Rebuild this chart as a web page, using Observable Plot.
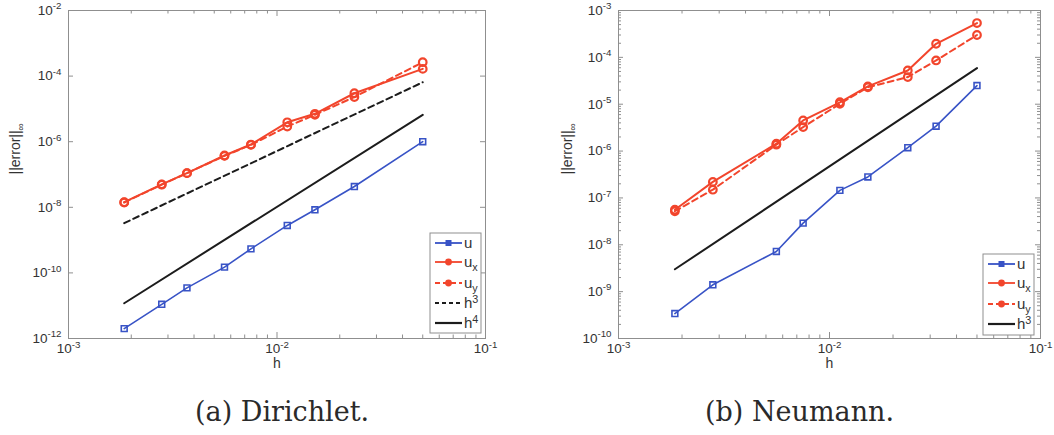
<!DOCTYPE html>
<html><head><meta charset="utf-8">
<script src="https://cdn.jsdelivr.net/npm/d3@7"></script>
<script src="https://cdn.jsdelivr.net/npm/@observablehq/plot@0.6"></script>
<style>
body{margin:0;background:#fff;}
#wrap{position:relative;width:1054px;height:435px;overflow:hidden;background:#fff;}
.panel{position:absolute;top:0;}
#overlay{position:absolute;left:0;top:0;pointer-events:none;}
</style></head><body><div id="wrap"><div id="left" class="panel" style="left:0px;width:520px"></div><div id="right" class="panel" style="left:530px;width:524px"></div></div>
<script>
// ---------- data ----------
// (a) Dirichlet
const hDir   = [0.00185, 0.0028, 0.0037, 0.0056, 0.0075, 0.0112, 0.0152, 0.0235, 0.05];
const uDir   = [2.0e-12, 1.1e-11, 3.5e-11, 1.5e-10, 5.4e-10, 2.8e-9, 8.4e-9, 4.3e-8, 1.0e-6];
const uxDir  = [1.43e-8, 5.0e-8, 1.1e-7, 3.8e-7, 8.2e-7, 3.9e-6, 7.1e-6, 3.0e-5, 1.66e-4];
const uyDir  = [1.4e-8, 4.9e-8, 1.1e-7, 3.7e-7, 8.0e-7, 2.9e-6, 6.6e-6, 2.3e-5, 2.65e-4];
const hRefDir = [0.00185, 0.05];
const h3Dir   = [3.3e-9, 6.5e-5];
const h4Dir   = [1.19e-11, 6.6e-6];
// (b) Neumann
const hNeu   = [0.00185, 0.0028, 0.0056, 0.0075, 0.0112, 0.0152, 0.0235, 0.032, 0.05];
const uNeu   = [3.4e-10, 1.4e-9, 7.2e-9, 2.9e-8, 1.45e-7, 2.8e-7, 1.18e-6, 3.4e-6, 2.5e-5];
const uxNeu  = [5.6e-8, 2.2e-7, 1.44e-6, 4.5e-6, 1.1e-5, 2.4e-5, 5.25e-5, 1.95e-4, 5.4e-4];
const uyNeu  = [5.2e-8, 1.5e-7, 1.37e-6, 3.25e-6, 1.02e-5, 2.3e-5, 3.8e-5, 8.6e-5, 3.0e-4];
const hRefNeu = [0.00185, 0.05];
const h3Neu   = [3.0e-9, 5.9e-5];

// ticks and tick labels
const xMajor = [1e-3, 1e-2, 1e-1];
const xTickLabels = ["10^-3", "10^-2", "10^-1"];
const yTicksDir = [1e-12, 1e-10, 1e-8, 1e-6, 1e-4, 1e-2];
const yLabelsDir = ["10^-12", "10^-10", "10^-8", "10^-6", "10^-4", "10^-2"];
const yTicksNeu = [1e-10, 1e-9, 1e-8, 1e-7, 1e-6, 1e-5, 1e-4, 1e-3];
const yLabelsNeu = ["10^-10", "10^-9", "10^-8", "10^-7", "10^-6", "10^-5", "10^-4", "10^-3"];
const captions = ["(a) Dirichlet.", "(b) Neumann."];
const xAxisLabel = "h";
const yAxisLabel = "||error||_∞";

// minor log ticks (decoration)
const minorOf = (decades) => decades.flatMap(p => [2,3,4,5,6,7,8,9].map(k => +(k * p).toPrecision(3)));
const xMinor = minorOf([1e-3, 1e-2]);
const yMinorNeu = minorOf([1e-10, 1e-9, 1e-8, 1e-7, 1e-6, 1e-5, 1e-4]);

// ---------- styles ----------
const blue = "#3853c6", red = "#f2452c", black = "#1c1c1c", axisGray = "#8f8f8f", textGray = "#333";
const H = 380, MT = 10, MB = 42;
const FONT = "'Liberation Sans', Arial, Helvetica, sans-serif";
const rows = (xs, ys) => xs.map((x, i) => ({x, y: ys[i]}));

function makePanel(cfg) {
  const iw = cfg.width - cfg.marginLeft - cfg.marginRight;
  const ih = H - MT - MB;
  const marks = [
    Plot.frame({stroke: axisGray}),
    Plot.tickX(xMajor, {x: d => d, insetTop: ih - 6, stroke: axisGray}),
    Plot.tickX(xMajor, {x: d => d, insetBottom: ih - 6, stroke: axisGray}),
    Plot.tickX(xMinor, {x: d => d, insetTop: ih - 3.5, stroke: axisGray}),
    Plot.tickX(xMinor, {x: d => d, insetBottom: ih - 3.5, stroke: axisGray}),
    Plot.tickY(cfg.yTicks, {y: d => d, insetRight: iw - 5, stroke: axisGray}),
    Plot.tickY(cfg.yTicks, {y: d => d, insetLeft: iw - 5, stroke: axisGray}),
  ];
  if (cfg.yMinor) {
    marks.push(Plot.tickY(cfg.yMinor, {y: d => d, insetRight: iw - 3, stroke: axisGray}));
    marks.push(Plot.tickY(cfg.yMinor, {y: d => d, insetLeft: iw - 3, stroke: axisGray}));
  }
  marks.push(
    Plot.text(xMajor, {x: d => d, frameAnchor: "bottom", dy: 14.5, text: (d, i) => xTickLabels[i], fontSize: 13.5, fill: textGray}),
    Plot.text(cfg.yTicks, {y: d => d, frameAnchor: "left", dx: -7, textAnchor: "end", text: (d, i) => cfg.yLabels[i], fontSize: 13.5, fill: textGray}),
    Plot.text([xAxisLabel], {frameAnchor: "bottom", dy: 29, text: d => d, fontSize: 14, fill: textGray}),
    Plot.text([yAxisLabel], {frameAnchor: "left", dx: cfg.yLabelDx, rotate: -90, text: d => d, fontSize: 14, fill: textGray})
  );
  for (const r of cfg.refs) {
    marks.push(Plot.line(rows(cfg.hRef, r.y), {x: "x", y: "y", stroke: black, strokeWidth: 2, strokeDasharray: r.dash}));
  }
  const U = rows(cfg.h, cfg.u), UX = rows(cfg.h, cfg.ux), UY = rows(cfg.h, cfg.uy);
  marks.push(
    Plot.line(U, {x: "x", y: "y", stroke: blue, strokeWidth: 1.6}),
    Plot.dot(U, {x: "x", y: "y", symbol: "square", r: 3.3, stroke: blue, strokeWidth: 1.6, fill: "none"}),
    Plot.line(UX, {x: "x", y: "y", stroke: red, strokeWidth: 2}),
    Plot.dot(UX, {x: "x", y: "y", r: 3.8, stroke: red, strokeWidth: 2.2, fill: "none"}),
    Plot.line(UY, {x: "x", y: "y", stroke: red, strokeWidth: 2, strokeDasharray: "6,4"}),
    Plot.dot(UY, {x: "x", y: "y", r: 3.8, stroke: red, strokeWidth: 2.2, fill: "none"})
  );
  const svg = Plot.plot({
    width: cfg.width, height: H,
    marginLeft: cfg.marginLeft, marginRight: cfg.marginRight, marginTop: MT, marginBottom: MB,
    x: {type: "log", domain: [1e-3, 1e-1], axis: null},
    y: {type: "log", domain: cfg.yDomain, axis: null},
    style: {fontFamily: FONT, fontSize: "13.5px", background: "transparent", overflow: "visible"},
    marks
  });
  richify(svg);
  return svg;
}

// turn "a^b" / "a_b" into superscript / subscript tspans
function richify(root) {
  const NS = "http://www.w3.org/2000/svg";
  root.querySelectorAll("text").forEach(t => {
    if (t.querySelector("tspan")) return;
    const s = t.textContent;
    const m = s.match(/^(.*?)([\^_])(.+)$/);
    if (!m) return;
    t.textContent = "";
    t.appendChild(document.createTextNode(m[1]));
    const ts = document.createElementNS(NS, "tspan");
    const sup = m[2] === "^";
    ts.setAttribute("dy", sup ? "-5.5" : "4");
    ts.setAttribute("font-size", "72%");
    ts.textContent = m[3];
    t.appendChild(ts);
  });
}

document.getElementById("left").appendChild(makePanel({
  width: 520, marginLeft: 68, marginRight: 35, yDomain: [1e-12, 1e-2],
  yTicks: yTicksDir, yLabels: yLabelsDir, yLabelDx: -53,
  h: hDir, u: uDir, ux: uxDir, uy: uyDir, hRef: hRefDir,
  refs: [{y: h3Dir, dash: "6,4"}, {y: h4Dir, dash: null}]
}));
document.getElementById("right").appendChild(makePanel({
  width: 524, marginLeft: 88, marginRight: 14, yDomain: [1e-10, 1e-3],
  yTicks: yTicksNeu, yLabels: yLabelsNeu, yMinor: yMinorNeu, yLabelDx: -51,
  h: hNeu, u: uNeu, ux: uxNeu, uy: uyNeu, hRef: hRefNeu,
  refs: [{y: h3Neu, dash: null}]
}));

// ---------- legends and captions overlay ----------
const legendLeft = [
  {label: "u", stroke: blue, dash: null, sym: "square"},
  {label: "u_x", stroke: red, dash: null, sym: "circle"},
  {label: "u_y", stroke: red, dash: "5,3", sym: "circle"},
  {label: "h^3", stroke: black, dash: "4,3", sym: null},
  {label: "h^4", stroke: black, dash: null, sym: null}
];
const legendRight = [
  {label: "u", stroke: blue, dash: null, sym: "square"},
  {label: "u_x", stroke: red, dash: null, sym: "circle"},
  {label: "u_y", stroke: red, dash: "5,3", sym: "circle"},
  {label: "h^3", stroke: black, dash: null, sym: null}
];
const ov = d3.select("#wrap").append("svg").attr("id", "overlay").attr("width", 1054).attr("height", 435);

function drawLegend(items, box, ys) {
  const g = ov.append("g");
  g.append("rect").attr("x", box.x).attr("y", box.y).attr("width", box.w).attr("height", box.h)
    .attr("fill", "#fff").attr("stroke", axisGray);
  items.forEach((it, i) => {
    const y = ys[i];
    const x0 = box.x + 5, x1 = box.x + 32, xm = (x0 + x1) / 2;
    g.append("line").attr("x1", x0).attr("x2", x1).attr("y1", y).attr("y2", y)
      .attr("stroke", it.stroke).attr("stroke-width", it.stroke === black ? 2.2 : 1.8)
      .attr("stroke-dasharray", it.dash);
    if (it.sym === "square") g.append("rect").attr("x", xm - 2.5).attr("y", y - 2.5).attr("width", 5).attr("height", 5)
      .attr("fill", it.stroke).attr("stroke", it.stroke);
    if (it.sym === "circle") g.append("circle").attr("cx", xm).attr("cy", y).attr("r", 3.4).attr("fill", it.stroke);
    g.append("text").attr("x", x1 + 2).attr("y", y).attr("dy", "0.35em")
      .attr("font-family", FONT).attr("font-size", 15).attr("fill", textGray).text(it.label);
  });
  richify(g.node());
}
drawLegend(legendLeft, {x: 430, y: 233, w: 51, h: 100}, [243, 262, 283, 303, 323]);
drawLegend(legendRight, {x: 983, y: 254, w: 51, h: 81}, [264, 283, 304, 324]);

ov.selectAll("text.cap").data(captions).join("text").attr("class", "cap")
  .attr("x", (d, i) => i === 0 ? 195 : 705).attr("y", 421)
  .attr("font-family", "'DejaVu Serif', 'Liberation Serif', serif").attr("font-size", 27)
  .attr("fill", "#2a2a2a").text(d => d);
</script></body></html>
